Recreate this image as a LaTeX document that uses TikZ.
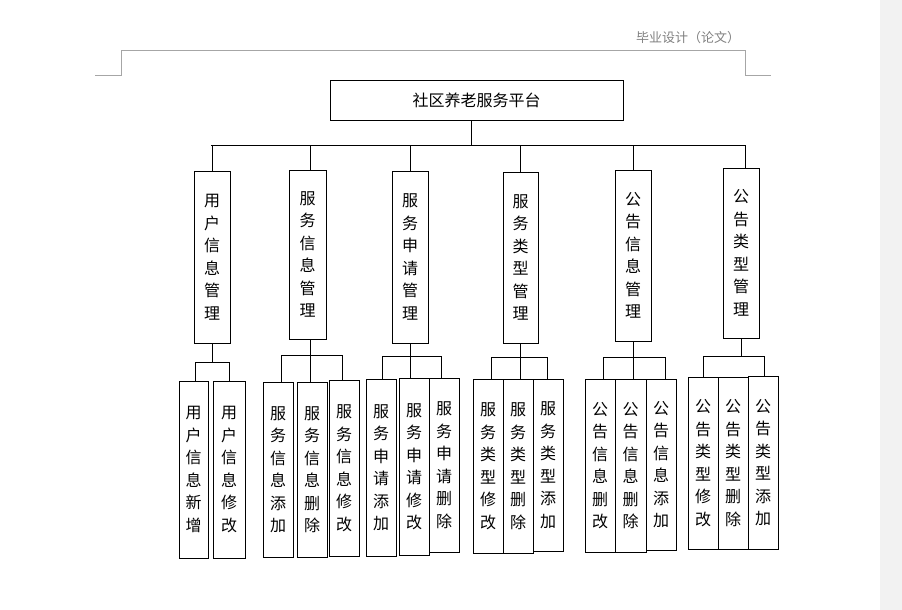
\documentclass[tikz,border=0pt]{standalone}
\usepackage{fontspec}
\setmainfont{Noto Sans CJK SC}
\begin{document}
\begin{tikzpicture}[x=1pt,y=-1pt,
  box/.style={draw,line width=0.9pt,inner sep=0pt,align=center,font=\fontsize{16}{22.5}\selectfont},
  ln/.style={line width=0.9pt},
  hd/.style={gray!70,line width=0.8pt}]
\useasboundingbox (0,0) rectangle (902,610);
\fill[black!5] (880,0) rectangle (902,610);
% header
\node[gray,font=\fontsize{13}{13}\selectfont] (hdr) at (688,38) {毕业设计（论文）};
\draw[hd] (95,75) -- (121,75) -- (121,50) -- (745,50) -- (745,75) -- (771,75);
\newcommand{\bx}[6]{\node[box,minimum width={#4-#2},minimum height={#5-#3}] (#1) at ({(#2+#4)/2},{(#3+#5)/2}) {#6};}
\bx{root}{330}{80}{623}{120}{社区养老服务平台}
\bx{a1}{194}{171}{230}{343}{用\\户\\信\\息\\管\\理}
\bx{a2}{289}{170}{326}{339}{服\\务\\信\\息\\管\\理}
\bx{a3}{392}{171}{428}{343}{服\\务\\申\\请\\管\\理}
\bx{a4}{503}{172}{538}{343}{服\\务\\类\\型\\管\\理}
\bx{a5}{615}{170}{651}{341}{公\\告\\信\\息\\管\\理}
\bx{a6}{723}{168}{759}{338}{公\\告\\类\\型\\管\\理}
\draw[ln] (471,0 |- root.south) -- (471,145);
\draw[ln] (211,145) -- (745,145);
\foreach \n/\xx in {a1/212,a2/310,a3/410,a4/520,a5/633,a6/745}
  \draw[ln] (\xx,145) -- (\xx,0 |- \n.north);
% level 2
\bx{b11}{179}{381}{208}{558}{用\\户\\信\\息\\新\\增}
\bx{b12}{213}{381}{245}{558}{用\\户\\信\\息\\修\\改}
\bx{b21}{263}{382}{293}{557}{服\\务\\信\\息\\添\\加}
\bx{b22}{297}{382}{327}{557}{服\\务\\信\\息\\删\\除}
\bx{b23}{329}{380}{359}{556}{服\\务\\信\\息\\修\\改}
\bx{b31}{366}{379}{396}{556}{服\\务\\申\\请\\添\\加}
\bx{b32}{399}{378}{429}{555}{服\\务\\申\\请\\修\\改}
\bx{b33}{429}{378}{459}{552}{服\\务\\申\\请\\删\\除}
\bx{b41}{473}{379}{503}{553}{服\\务\\类\\型\\修\\改}
\bx{b42}{503}{379}{533}{553}{服\\务\\类\\型\\删\\除}
\bx{b43}{533}{379}{563}{551}{服\\务\\类\\型\\添\\加}
\bx{b51}{585}{379}{615}{552}{公\\告\\信\\息\\删\\改}
\bx{b52}{615}{379}{646}{552}{公\\告\\信\\息\\删\\除}
\bx{b53}{646}{379}{676}{550}{公\\告\\信\\息\\添\\加}
\bx{b61}{688}{377}{718}{549}{公\\告\\类\\型\\修\\改}
\bx{b62}{718}{377}{748}{549}{公\\告\\类\\型\\删\\除}
\bx{b63}{748}{376}{778}{549}{公\\告\\类\\型\\添\\加}
% group buses
\draw[ln] (a1.south) -- (212,362); \draw[ln] (195,381) -- (195,362) -- (229,362) -- (229,381);
\draw[ln] (310,339) -- (310,382); \draw[ln] (281,382) -- (281,355) -- (342,355) -- (342,380);
\draw[ln] (410,343) -- (410,379); \draw[ln] (382,379) -- (382,356) -- (441,356) -- (441,378);
\draw[ln] (520,343) -- (520,379); \draw[ln] (491,379) -- (491,357) -- (547,357) -- (547,379);
\draw[ln] (633,341) -- (633,379); \draw[ln] (603,379) -- (603,357) -- (665,357) -- (665,379);
\draw[ln] (741,338) -- (741,356); \draw[ln] (703,377) -- (703,356) -- (764,356) -- (764,376);
\end{tikzpicture}
\end{document}
